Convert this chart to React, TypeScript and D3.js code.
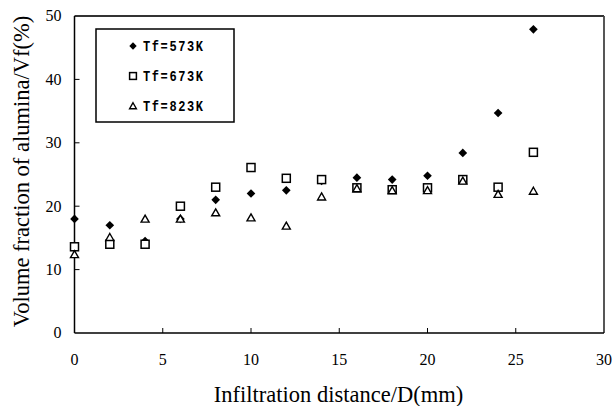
import React from "react";
import * as d3 from "d3";

const distances = [0, 2, 4, 6, 8, 10, 12, 14, 16, 18, 20, 22, 24, 26];
const vf573 = [18, 17, 14.5, 18, 21, 22, 22.5, 24, 24.5, 24.2, 24.8, 28.4, 34.7, 47.9];
const vf673 = [13.6, 14, 14, 20, 23, 26.1, 24.4, 24.2, 22.9, 22.6, 22.9, 24.2, 23, 28.5];
const vf823 = [12.4, 15.1, 18, 18, 19, 18.2, 16.9, 21.5, 22.8, 22.5, 22.5, 24, 21.9, 22.4];
const seriesNames = ["Tf=573K", "Tf=673K", "Tf=823K"];
const xTicks = [0, 5, 10, 15, 20, 25, 30];
const yTicks = [0, 10, 20, 30, 40, 50];

const W = 613;
const H = 406;
const left = 74.5;
const right = 604;
const top = 16;
const bottom = 333;

function Marker({ kind, x, y, s = 1 }: { kind: number; x: number; y: number; s?: number }) {
  if (kind === 0) {
    const p = d3.symbol().type(d3.symbolDiamond2).size(48 * s * s)();
    return <path d={p || ""} transform={`translate(${x},${y})`} fill="#000" />;
  }
  if (kind === 1) {
    const a = 4 * s;
    return (
      <rect x={x - a} y={y - a} width={2 * a} height={2 * a} fill="#fff" stroke="#000" strokeWidth={1.5} />
    );
  }
  const h = 6.5 * s;
  const w = 4 * s;
  return (
    <path
      d={`M${x},${y - h / 2 - 0.5} L${x + w},${y + h / 2} L${x - w},${y + h / 2} Z`}
      fill="#fff"
      stroke="#000"
      strokeWidth={1.4}
      strokeLinejoin="miter"
    />
  );
}

export default function App() {
  const x = d3.scaleLinear().domain([0, 30]).range([left, right]);
  const y = d3.scaleLinear().domain([0, 50]).range([bottom, top]);
  const series = [vf573, vf673, vf823];
  const serif = "'Liberation Serif', 'Times New Roman', serif";

  return (
    <svg
      width={W}
      height={H}
      style={{ position: "absolute", left: 0, top: 0, background: "#fff" }}
      viewBox={`0 0 ${W} ${H}`}
    >
      <rect x={0} y={0} width={W} height={H} fill="#fff" />
      <line x1={left} y1={top} x2={right} y2={top} stroke="#333" strokeWidth={1.8} />
      <line x1={right} y1={top} x2={right} y2={bottom} stroke="#444" strokeWidth={1.8} />
      <line x1={left} y1={top} x2={left} y2={bottom} stroke="#000" strokeWidth={1.5} />
      <line x1={left} y1={bottom} x2={right} y2={bottom} stroke="#000" strokeWidth={1.5} />
      {yTicks.map((t) => (
        <g key={"y" + t}>
          {t > 0 && t < 50 && (
            <line x1={left} y1={y(t)} x2={left + 5} y2={y(t)} stroke="#000" strokeWidth={1} />
          )}
          <text
            x={61.5}
            y={y(t)}
            dy="0.34em"
            textAnchor="end"
            fontFamily={serif}
            fontSize={16}
            fill="#000"
          >
            {t}
          </text>
        </g>
      ))}
      {xTicks.map((t) => (
        <g key={"x" + t}>
          {t > 0 && t < 30 && (
            <line x1={x(t)} y1={bottom} x2={x(t)} y2={bottom - 5} stroke="#000" strokeWidth={1} />
          )}
          <text x={x(t)} y={365} textAnchor="middle" fontFamily={serif} fontSize={16} fill="#000">
            {t}
          </text>
        </g>
      ))}
      <text x={338.5} y={402} textAnchor="middle" fontFamily={serif} fontSize={22.5} fill="#000">
        Infiltration distance/D(mm)
      </text>
      <text
        transform={`translate(29,171.5) rotate(-90)`}
        textAnchor="middle"
        fontFamily={serif}
        fontSize={22.5}
        fill="#000"
      >
        Volume fraction of alumina/Vf(%)
      </text>
      {series.map((s, si) => (
        <g key={"s" + si}>
          {distances.map((d, i) => (
            <Marker key={i} kind={si} x={x(d)} y={y(s[i])} />
          ))}
        </g>
      ))}
      <rect x={96} y={29} width={138} height={93} fill="#fff" stroke="#000" strokeWidth={1.5} />
      {seriesNames.map((n, i) => (
        <g key={n}>
          <Marker kind={i} x={133} y={46 + i * 30} s={0.85} />
          <text
            transform={`translate(143,${46 + i * 30}) scale(1,1.25)`}
            dy="0.36em"
            fontFamily="'Liberation Mono', 'DejaVu Sans Mono', monospace"
            fontWeight="bold"
            fontSize={12}
            letterSpacing={1.6}
            fill="#000"
          >
            {n}
          </text>
        </g>
      ))}
    </svg>
  );
}
